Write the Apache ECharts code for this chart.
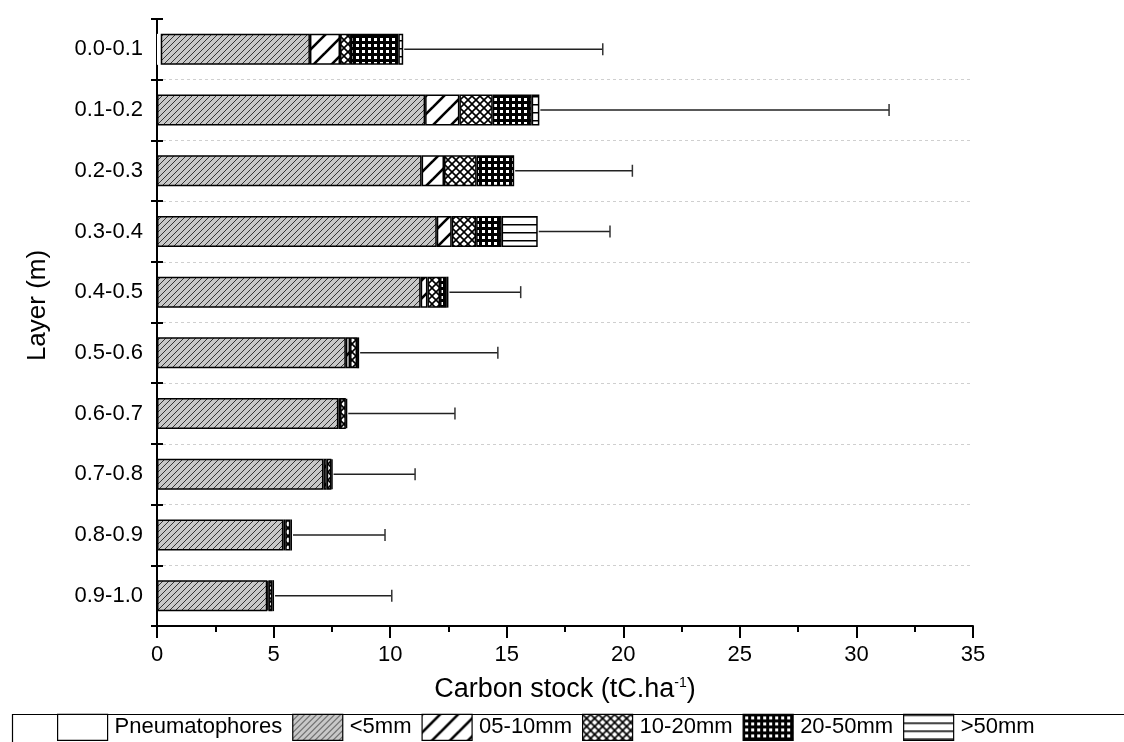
<!DOCTYPE html>
<html>
<head>
<meta charset="utf-8">
<script src="https://cdn.jsdelivr.net/npm/echarts@6/dist/echarts.min.js"></script>
<style>
html,body{margin:0;padding:0;background:#fff;}
#chart{width:1124px;height:742px;}
</style>
</head>
<body>
<div id="chart"></div>
<script>
// ---- data ----
const categories = ['0.0-0.1','0.1-0.2','0.2-0.3','0.3-0.4','0.4-0.5','0.5-0.6','0.6-0.7','0.7-0.8','0.8-0.9','0.9-1.0'];
const seriesNames = ['Pneumatophores','<5mm','05-10mm','10-20mm','20-50mm','>50mm'];
const pneumatophores = [0.16, 0, 0, 0, 0, 0, 0, 0, 0, 0];
const lt5mm   = [6.40, 11.50, 11.35, 12.00, 11.31, 8.10, 7.78, 7.14, 5.42, 4.73];
const mm05_10 = [1.29, 1.47, 0.96, 0.64, 0.29, 0.18, 0.07, 0.14, 0.08, 0.05];
const mm10_20 = [0.47, 1.43, 1.40, 1.05, 0.54, 0.30, 0.25, 0.20, 0.22, 0.17];
const mm20_50 = [2.03, 1.67, 1.61, 1.09, 0.29, 0.09, 0.06, 0.05, 0.07, 0.07];
const gt50mm  = [0.21, 0.33, 0, 1.55, 0.07, 0, 0, 0, 0, 0];
const errorSD = [8.56, 15.00, 5.07, 3.10, 3.10, 5.95, 4.62, 3.54, 3.99, 5.05];
const xTicks = [0, 5, 10, 15, 20, 25, 30, 35];

// ---- patterns ----
function makeTile(w, h, draw) {
  const c = document.createElement('canvas');
  c.width = w; c.height = h;
  const g = c.getContext('2d');
  draw(g, w, h);
  return c;
}
function diag(g, s, dir) {
  const offs = [-s, 0, s];
  offs.forEach(o => {
    g.beginPath();
    if (dir === 1) { g.moveTo(o - 1, s + 1); g.lineTo(o + s + 1, -1); }
    else { g.moveTo(o - 1, -1); g.lineTo(o + s + 1, s + 1); }
    g.stroke();
  });
}
const patLt5 = makeTile(6, 6, (g, w) => {
  g.fillStyle = '#c8c8c8'; g.fillRect(0, 0, w, w);
  g.strokeStyle = '#222'; g.lineWidth = 0.9; diag(g, w, 1);
});
const pat05 = makeTile(18, 18, (g, w) => {
  g.fillStyle = '#fff'; g.fillRect(0, 0, w, w);
  g.strokeStyle = '#000'; g.lineWidth = 2.6; diag(g, w, 1);
});
const pat10 = makeTile(8, 8, (g, w) => {
  g.fillStyle = '#fff'; g.fillRect(0, 0, w, w);
  g.strokeStyle = '#000'; g.lineWidth = 1.6; diag(g, w, 1); diag(g, w, -1);
});
const pat20 = makeTile(6, 6, (g, w) => {
  g.fillStyle = '#000'; g.fillRect(0, 0, w, w);
  g.fillStyle = '#fff'; g.fillRect(2, 2, 3, 3);
});
const pat50 = makeTile(8, 8, (g, w) => {
  g.fillStyle = '#fff'; g.fillRect(0, 0, w, w);
  g.fillStyle = '#000'; g.fillRect(0, 0, w, 1.5);
});
const fills = ['#ffffff',
  {image: patLt5, repeat: 'repeat'},
  {image: pat05, repeat: 'repeat'},
  {image: pat10, repeat: 'repeat'},
  {image: pat20, repeat: 'repeat'},
  {image: pat50, repeat: 'repeat'}];
const values = [pneumatophores, lt5mm, mm05_10, mm10_20, mm20_50, gt50mm];

const totals = categories.map((c, i) => values.reduce((s, arr) => s + arr[i], 0));
const errData = categories.map((c, i) => [totals[i], totals[i] + errorSD[i], i]);

const FONT = "'Liberation Sans', Arial, sans-serif";

const barSeries = seriesNames.map((name, k) => ({
  name: name,
  type: 'bar',
  stack: 'total',
  barWidth: '51%',
  yAxisIndex: 0,
  itemStyle: {color: fills[k], borderColor: k === 0 ? '#fff' : '#000', borderWidth: k === 0 ? 0 : 1.5},
  emphasis: {disabled: true},
  data: values[k].map(v => v === 0 ? null : v)
}));

const errSeries = {
  type: 'custom',
  name: 'err',
  yAxisIndex: 0,
  z: 10,
  encode: {x: [0, 1], y: 2},
  data: errData,
  renderItem: function (params, api) {
    const y = api.value(2);
    const p0 = api.coord([api.value(0), y]);
    const p1 = api.coord([api.value(1), y]);
    const cap = 6;
    return {
      type: 'group',
      children: [
        {type: 'line', shape: {x1: p0[0] + 1, y1: p0[1], x2: p1[0], y2: p1[1]}, style: {stroke: '#222', lineWidth: 1.5}},
        {type: 'line', shape: {x1: p1[0], y1: p1[1] - cap, x2: p1[0], y2: p1[1] + cap}, style: {stroke: '#333', lineWidth: 1.5}}
      ]
    };
  }
};

const chart = echarts.init(document.getElementById('chart'), null, {renderer: 'canvas'});
chart.setOption({
  animation: false,
  backgroundColor: '#fff',
  textStyle: {fontFamily: FONT},
  grid: {left: 157, right: 151, top: 19, bottom: 116, containLabel: false},
  legend: {
    data: seriesNames,
    bottom: 0,
    left: 57,
    icon: 'rect',
    itemWidth: 50,
    itemHeight: 26,
    itemGap: 10,
    padding: [0, 0, 1, 0],
    textStyle: {fontSize: 22, color: '#000', fontFamily: FONT, padding: [0, 0, 0, 2]},
    itemStyle: {borderColor: '#000', borderWidth: 1.2}
  },
  graphic: [{
    type: 'rect', left: 10, top: 712, z: 100, silent: true,
    shape: {x: 0, y: 0, width: 1130, height: 40},
    style: {fill: 'none', stroke: '#000', lineWidth: 1.2}
  }],
  xAxis: {
    type: 'value',
    min: xTicks[0],
    max: xTicks[xTicks.length - 1],
    interval: 5,
    name: 'Carbon stock (tC.ha{sup|-1})',
    nameLocation: 'middle',
    nameGap: 50,
    nameTextStyle: {
      fontSize: 27, color: '#000', fontFamily: FONT,
      rich: {sup: {fontSize: 14, verticalAlign: 'top', padding: [0, 0, 12, 0], color: '#000', fontFamily: FONT}}
    },
    axisLine: {show: true, lineStyle: {color: '#000', width: 2}},
    axisTick: {show: true, length: 12, lineStyle: {color: '#000', width: 2}},
    minorTick: {show: true, splitNumber: 2, length: 6, lineStyle: {color: '#000', width: 2}},
    axisLabel: {fontSize: 22, color: '#000', margin: 18, fontFamily: FONT},
    splitLine: {show: false}
  },
  yAxis: [{
    type: 'category',
    data: categories,
    inverse: true,
    position: 'left',
    name: 'Layer (m)',
    nameLocation: 'middle',
    nameGap: 106,
    nameTextStyle: {fontSize: 26, color: '#000', fontFamily: FONT, padding: [0, 0, 0, 34]},
    axisLine: {show: true, lineStyle: {color: '#000', width: 2}},
    axisTick: {show: true, length: 6, lineStyle: {color: '#000', width: 2}},
    axisLabel: {fontSize: 22, color: '#000', margin: 14, fontFamily: FONT},
    splitLine: {show: true, interval: function (index) { return index !== 0; }, lineStyle: {color: '#cfcfcf', type: [3, 3], width: 1}}
  }, {
    type: 'category',
    data: categories,
    inverse: true,
    position: 'left',
    offset: 0,
    axisLine: {show: false},
    axisTick: {show: true, inside: true, length: 6, lineStyle: {color: '#000', width: 2}},
    axisLabel: {show: false},
    splitLine: {show: false}
  }],
  series: barSeries.concat([errSeries])
});
</script>
</body>
</html>
